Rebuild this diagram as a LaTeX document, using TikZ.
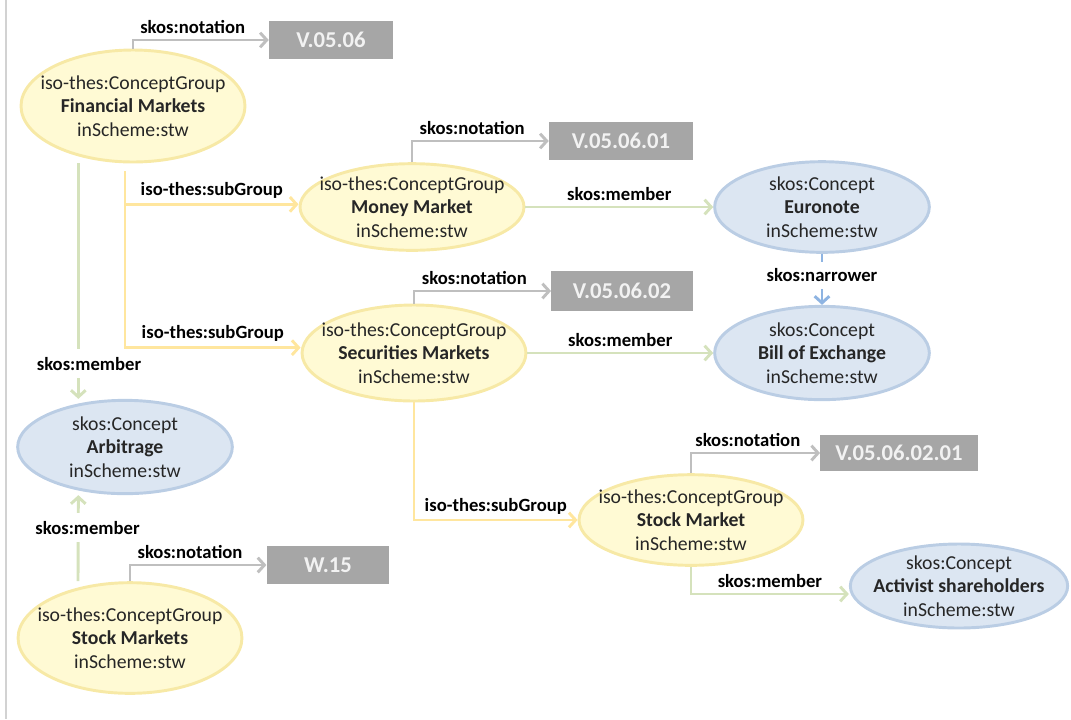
\documentclass[tikz,border=0pt]{standalone}
\usepackage{fontspec}
\setmainfont{Carlito}
\usepackage{xcolor}
\usetikzlibrary{positioning, arrows.meta, shapes.geometric}

\definecolor{grpfill}{HTML}{FFFAD4}
\definecolor{grpline}{HTML}{F7E9A6}
\definecolor{cptfill}{HTML}{DCE6F2}
\definecolor{cptline}{HTML}{BACDE4}
\definecolor{yline}{HTML}{FFE69E}
\definecolor{gline}{HTML}{D5E2BC}
\definecolor{grline}{HTML}{BFBFBF}
\definecolor{bline}{HTML}{8EB4E2}
\definecolor{boxfill}{HTML}{A6A6A6}

\begin{document}
\begin{tikzpicture}[
                x=0.75pt, y=-0.75pt,
                group/.style={ellipse, draw=grpline, line width=2.2pt, fill=grpfill, inner xsep=-10pt, inner ysep=-4pt, align=center, text=black!85, font=\fontsize{14.8}{17.5}\selectfont},
                concept/.style={ellipse, draw=cptline, line width=2.2pt, fill=cptfill, inner xsep=-10pt, inner ysep=-4pt, align=center, text=black!85, font=\fontsize{14.8}{17.5}\selectfont},
                notation/.style={rectangle, fill=boxfill, inner sep=0pt, text=white!95!black, font=\fontsize{17}{19}\selectfont\bfseries},
                lbl/.style={font=\fontsize{14}{16}\selectfont\bfseries, text=black},
                tip/.style={-{Straight Barb[length=5pt, width=11pt]}},
                yarrow/.style={tip, line width=2.2pt, yline},
                garrow/.style={tip, line width=2.2pt, gline},
                grayarrow/.style={tip, line width=2.2pt, grline},
                barrow/.style={tip, line width=2.2pt, bline}
            ]
            \useasboundingbox (0,0) rectangle (1071,719);
            \draw[gray!35, line width=1pt] (6,0) -- (6,719);

            % Concept groups
            \node[group, minimum width=168pt, minimum height=84pt] (fm) at (133,106) {iso-thes:ConceptGroup\\\textbf{Financial Markets}\\inScheme:stw};
            \node[group, minimum width=168pt, minimum height=65pt] (mm) at (412,207) {iso-thes:ConceptGroup\\\textbf{Money Market}\\inScheme:stw};
            \node[group, minimum width=166pt, minimum height=72pt] (secm) at (414,353) {iso-thes:ConceptGroup\\\textbf{Securities Markets}\\inScheme:stw};
            \node[group, minimum width=166pt, minimum height=68pt] (sm) at (691,520) {iso-thes:ConceptGroup\\\textbf{Stock Market}\\inScheme:stw};
            \node[group, minimum width=165pt, minimum height=83pt] (sms) at (130,638) {iso-thes:ConceptGroup\\\textbf{Stock Markets}\\inScheme:stw};

            % Concepts
            \node[concept, minimum width=161pt, minimum height=68pt] (eu) at (822,207) {skos:Concept\\\textbf{Euronote}\\inScheme:stw};
            \node[concept, minimum width=161pt, minimum height=70pt] (boe) at (822,353) {skos:Concept\\\textbf{Bill of Exchange}\\inScheme:stw};
            \node[concept, minimum width=161pt, minimum height=70pt] (arb) at (125,447) {skos:Concept\\\textbf{Arbitrage}\\inScheme:stw};
            \node[concept, minimum width=163pt, minimum height=63pt] (act) at (959,586) {skos:Concept\\\textbf{Activist shareholders}\\inScheme:stw};

            % Notations
            \node[notation, minimum width=93pt, minimum height=28pt] (n1) at (331,40) {V.05.06};
            \node[notation, minimum width=108pt, minimum height=29pt] (n2) at (621,141) {V.05.06.01};
            \node[notation, minimum width=106pt, minimum height=30pt] (n3) at (622,291) {V.05.06.02};
            \node[notation, minimum width=118pt, minimum height=27pt] (n4) at (899,453) {V.05.06.02.01};
            \node[notation, minimum width=92pt, minimum height=28pt] (n5) at (328,565) {W.15};

            % Notation arrows
            \draw[grayarrow] (fm.north) |- node[lbl, above, pos=0.72] {skos:notation} (n1.west);
            \draw[grayarrow] (mm.north) |- node[lbl, above, pos=0.72] {skos:notation} (n2.west);
            \draw[grayarrow] (secm.north) |- node[lbl, above, pos=0.72] {skos:notation} (n3.west);
            \draw[grayarrow] (sm.north) |- node[lbl, above, pos=0.72] {skos:notation} (n4.west);
            \draw[grayarrow] (sms.north) |- node[lbl, above, pos=0.72] {skos:notation} (n5.west);

            % Sub groups
            \draw[yarrow] ([xshift=-6pt, yshift=-6pt]fm.south) |- node[lbl, above, pos=0.75] {iso-thes:subGroup} ([yshift=2pt]mm.west);
            \draw[yarrow] ([xshift=-6pt, yshift=-6pt]fm.south) |- node[lbl, above, pos=0.75] {iso-thes:subGroup} ([yshift=4pt]secm.west);
            \draw[yarrow] (secm.south) |- node[lbl, above, pos=0.75] {iso-thes:subGroup} (sm.west);

            % Members
            \draw[garrow] (mm) -- node[lbl, above] {skos:member} (eu);
            \draw[garrow] (secm) -- node[lbl, above] {skos:member} (boe);
            \draw[garrow] (sm.south) |- node[lbl, above, pos=0.75] {skos:member} ([yshift=-6pt]act.west);
            \draw[garrow] ([xshift=-41pt]fm.south) -- node[lbl, fill=white, inner ysep=6pt, pos=0.85, xshift=8pt] {skos:member} ([xshift=-35pt]arb.north);
            \draw[garrow] ([xshift=-39pt]sms.north) -- node[lbl, fill=white, inner ysep=6pt, pos=0.62, xshift=7pt] {skos:member} ([xshift=-35pt]arb.south);

            % Narrower
            \draw[barrow] (eu) -- node[lbl, fill=white, inner ysep=5pt, pos=0.42] {skos:narrower} (boe);
        \end{tikzpicture}
\end{document}
